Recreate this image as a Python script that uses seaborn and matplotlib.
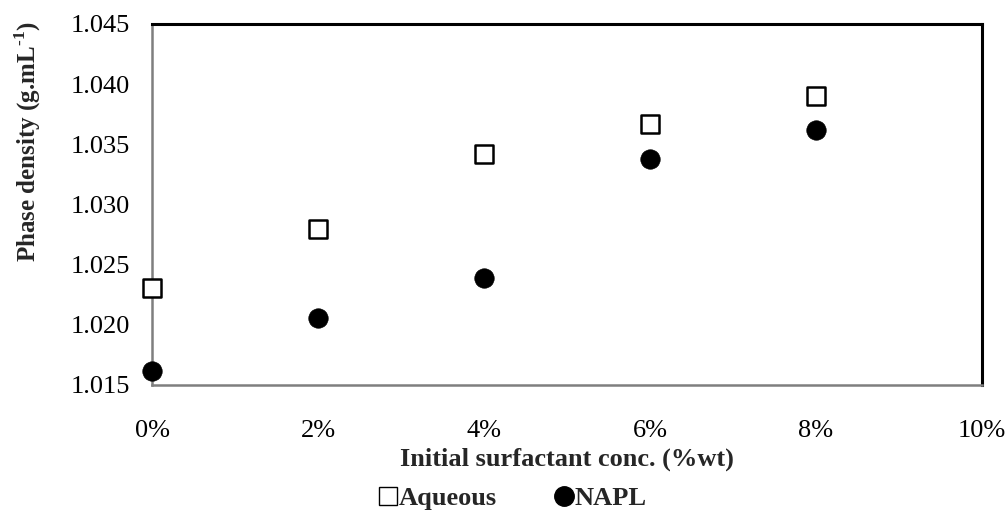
import matplotlib
matplotlib.use("Agg")
import matplotlib.pyplot as plt
import seaborn as sns
import pandas as pd
from matplotlib.ticker import FuncFormatter, MultipleLocator
from matplotlib.lines import Line2D

# Initial surfactant concentration (fraction by weight)
conc = [0.00, 0.02, 0.04, 0.06, 0.08]
# Phase densities (g/mL)
aqueous = [1.0231, 1.0280, 1.0342, 1.0367, 1.0390]
napl = [1.0162, 1.0206, 1.0239, 1.0338, 1.0362]
series_names = ["Aqueous", "NAPL"]

df = pd.DataFrame({
    "conc": conc * 2,
    "density": aqueous + napl,
    "phase": [series_names[0]] * len(conc) + [series_names[1]] * len(conc),
})

sns.set_theme(style="white")
plt.rcParams["font.family"] = ["Liberation Serif", "DejaVu Serif"]
plt.rcParams["mathtext.fontset"] = "custom"
plt.rcParams["mathtext.rm"] = "Liberation Serif:bold"
plt.rcParams["mathtext.bf"] = "Liberation Serif:bold"

FS = 19

fig = plt.figure(figsize=(10.05, 5.11), dpi=100)
ax = fig.add_axes([152 / 1005, 126 / 511, 830 / 1005, 361 / 511])

sns.scatterplot(data=df[df.phase == "Aqueous"], x="conc", y="density", marker="s",
                s=13.0 ** 2, facecolor="white", edgecolor="black", linewidth=1.8,
                ax=ax, zorder=3, clip_on=False, legend=False)
sns.scatterplot(data=df[df.phase == "NAPL"], x="conc", y="density", marker="o",
                s=14.0 ** 2, color="black", edgecolor="black", linewidth=0.5,
                ax=ax, zorder=3, clip_on=False, legend=False)

ax.set_xlim(0, 0.10)
ax.set_ylim(1.015, 1.045)
ax.xaxis.set_major_locator(MultipleLocator(0.02))
ax.yaxis.set_major_locator(MultipleLocator(0.005))
ax.xaxis.set_major_formatter(FuncFormatter(lambda v, p: f"{v * 100:.0f}%"))
ax.yaxis.set_major_formatter(FuncFormatter(lambda v, p: f"{v:.3f}"))

for side in ["top", "right"]:
    ax.spines[side].set_color("black")
    ax.spines[side].set_linewidth(2.2)
for side in ["left", "bottom"]:
    ax.spines[side].set_color("#7f7f7f")
    ax.spines[side].set_linewidth(1.8)

ax.tick_params(axis="both", which="major", direction="out", length=5, width=1.2,
               color="#7f7f7f", labelsize=FS, labelcolor="black")
ax.tick_params(axis="x", pad=20)
ax.tick_params(axis="y", pad=11)

ax.set_xlabel("Initial surfactant conc. (%wt)", fontsize=FS, fontweight="bold",
              labelpad=4)
ax.set_ylabel(r"Phase density (g.mL$^{\text{-}1}$)", fontsize=18,
              fontweight="bold")
ax.yaxis.set_label_coords(-0.131, 0.673)

handles = [
    Line2D([], [], linestyle="none", marker="s", markersize=13,
           markerfacecolor="white", markeredgecolor="black", markeredgewidth=1.0),
    Line2D([], [], linestyle="none", marker="o", markersize=14,
           markerfacecolor="black", markeredgecolor="black"),
]
fig.legend(handles, series_names, loc="center", bbox_to_anchor=(513 / 1005, 1 - 498 / 511),
           ncol=2, frameon=False, handletextpad=0.05, columnspacing=2.2,
           handlelength=0.7, borderpad=0, prop={"weight": "bold", "size": FS})

fig.savefig("out.png", dpi=100, facecolor="white")
